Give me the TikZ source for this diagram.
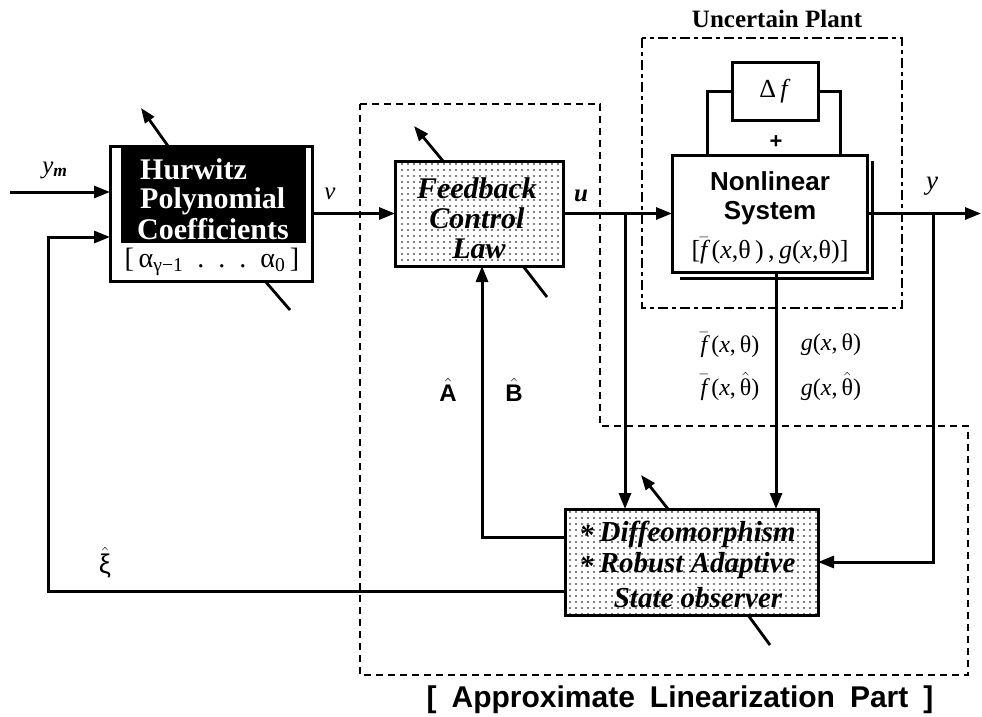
\documentclass[tikz,border=0pt]{standalone}
\usepackage{fontspec}
\setmainfont{Liberation Serif}
\setsansfont{Liberation Sans}
\usetikzlibrary{arrows.meta,patterns.meta}
\newcommand\fsz[1]{\fontsize{#1}{#1}\selectfont}
\newcommand\fbar{\ensuremath{\bar{\hbox{\itshape f}}}}
\newcommand\hatx[1]{\ensuremath{\hat{\hbox{#1}}}}
\tikzset{
 blk/.style={draw, line width=3pt, inner sep=0pt, outer sep=0pt},
 dotbox/.style={blk, pattern={Dots[distance=6pt,radius=0.8pt]}},
 wire/.style={line width=3pt},
 arr/.style={wire, -{Triangle[length=16pt,width=12pt]}},
 adj/.style={line width=2.8pt, -{Triangle[length=15pt,width=11pt]}},
 adjl/.style={line width=2.8pt},
 region/.style={line width=2.8pt, dash pattern=on 7pt off 5pt},
 plantreg/.style={line width=2.8pt, dash pattern=on 10pt off 4pt on 4pt off 4pt},
 lbl/.style={inner sep=0pt},
}
\begin{document}
\begin{tikzpicture}[x=1pt,y=-1pt]
\useasboundingbox (0,0) rectangle (982,716);

% dashed regions
\draw[region] (360,104) -- (600,104) -- (600,426) -- (968,426) -- (968,675) -- (360,675) -- cycle;
\draw[plantreg] (642,38) rectangle (902,308);
\node[lbl, font=\bfseries\fsz{25}] (uplant) at (777,19) {Uncertain Plant};
\node[lbl, font=\sffamily\bfseries\fsz{30}] (alp) at (680,700) {[\enspace Approximate\enspace Linearization\enspace Part\enspace ]};

% Hurwitz block
\node[blk, fill=white, minimum width=202pt, minimum height=135pt] (hur) at (211,213.5) {};
\fill (121,148) rectangle (306,243);
\node[lbl, anchor=west, text=white, font=\bfseries\fsz{30}] (h1) at (140,169) {Hurwitz};
\node[lbl, anchor=west, text=white, font=\bfseries\fsz{30}] (h2) at (140,201) {Polynomial};
\node[lbl, anchor=west, text=white, font=\bfseries\fsz{30}] (h3) at (137,229) {Coefficients};
\node[lbl, font=\fsz{28}] (h4) at (212,262) {[\,α\textsubscript{γ−1}\enspace.\enspace.\enspace.\enspace α\textsubscript{0}\,]};

% Feedback block
\node[dotbox, minimum width=168pt, minimum height=105pt] (fb) at (479,213.5) {};
\node[lbl, font=\bfseries\itshape\fsz{30}] (f1) at (477,188) {Feedback};
\node[lbl, font=\bfseries\itshape\fsz{30}] (f2) at (477,218) {Control};
\node[lbl, font=\bfseries\itshape\fsz{30}] (f3) at (479,249) {Law};

% Nonlinear system
\draw[wire] (872,161) -- (872,278) -- (680,278);
\node[blk, fill=white, minimum width=195pt, minimum height=117pt] (nl) at (769.5,213.5) {};
\node[lbl, font=\sffamily\bfseries\fsz{26}] (n1) at (770,181) {Nonlinear};
\node[lbl, font=\sffamily\bfseries\fsz{26}] (n2) at (770,213) {System};
\node[lbl, font=\fsz{26}] (n3) at (770,251) {[\fbar\,(\textit{x},θ\,)\,,\,\textit{g}(\textit{x},θ)]};

% Delta f
\node[blk, fill=white, minimum width=86pt, minimum height=58pt, font=\fsz{26}] (df) at (775,91) {Δ\,\textit{f}};
\node[lbl, font=\sffamily\bfseries\fsz{22}] (plus) at (776,142) {+};
\coordinate (dl) at (707,91);
\coordinate (dr) at (840,91);
\draw[wire] (df.west) -- (dl) -- (nl.north -| dl);
\draw[wire] (df.east) -- (dr) -- (nl.north -| dr);

% Diffeomorphism block
\node[dotbox, minimum width=253pt, minimum height=106pt] (dm) at (691.5,562) {};
\node[lbl, anchor=west, font=\bfseries\itshape\fsz{29}] (d1) at (579,534) {\raisebox{-0.1em}{*}\hspace{6pt}Diffeomorphism};
\node[lbl, anchor=west, font=\bfseries\itshape\fsz{29}] (d2) at (579,566) {\raisebox{-0.1em}{*}\hspace{6pt}Robust Adaptive};
\node[lbl, font=\bfseries\itshape\fsz{29}] (d3) at (698,598) {State observer};

% signal labels
\node[lbl, font=\fsz{25}] (lym) at (55,170) {\textit{y}\textsubscript{\textbf{\textit{m}}}};
\node[lbl, font=\itshape\fsz{25}] (lv) at (330,194) {v};
\node[lbl, font=\bfseries\itshape\fsz{25}] (lu) at (581,196) {u};
\node[lbl, font=\itshape\fsz{27}] (ly) at (932,186) {y};
\node[lbl, font=\sffamily\bfseries\fsz{24}] (lA) at (448,390) {\hatx{A}};
\node[lbl, font=\sffamily\bfseries\fsz{24}] (lB) at (514,390) {\hatx{B}};
\node[lbl, font=\sffamily\fsz{27}] (lxi) at (105,563) {\hatx{ξ}};
\node[lbl, font=\fsz{24}] (lf1) at (730,345) {\fbar\,(\textit{x},\,θ)};
\node[lbl, font=\fsz{24}] (lg1) at (831,345) {\textit{g}(\textit{x},\,θ)};
\node[lbl, font=\fsz{24}] (lf2) at (730,386) {\fbar\,(\textit{x},\,\hatx{θ})};
\node[lbl, font=\fsz{24}] (lg2) at (831,386) {\textit{g}(\textit{x},\,\hatx{θ})};

% coordinates
\coordinate (ymin) at (10,192);
\coordinate (xiL) at (48,591);
\coordinate (xiT) at (48,237);
\coordinate (uT) at (625,213.5);
\coordinate (yT) at (933,213.5);
\coordinate (yout) at (981,213.5);
\coordinate (nlB) at (776,272);
\coordinate (abL) at (482,537);

% connectors
\draw[arr] (ymin) -- (hur.west |- ymin);
\draw[arr] (dm.west |- xiL) -- (xiL) -- (xiT) -- (hur.west |- xiT);
\draw[arr] (hur.east) -- (fb.west);
\draw[arr] (fb.east) -- (nl.west);
\draw[arr] (uT) -- (dm.north -| uT);
\draw[arr] (nl.east) -- (yout);
\draw[arr] (yT) |- (dm.east);
\draw[arr] (nlB) -- (dm.north -| nlB);
\draw[arr] (dm.west |- abL) -- (abL) -- (fb.south -| abL);

% adaptation arrows
\draw[adj] (168,146) -- (141,108);
\draw[adjl] (265,281) -- (290,310);
\draw[adj] (443,161) -- (414,126);
\draw[adjl] (523,266) -- (547,297);
\draw[adj] (668,509) -- (641,475);
\draw[adjl] (748,615) -- (770,645);
\end{tikzpicture}
\end{document}
